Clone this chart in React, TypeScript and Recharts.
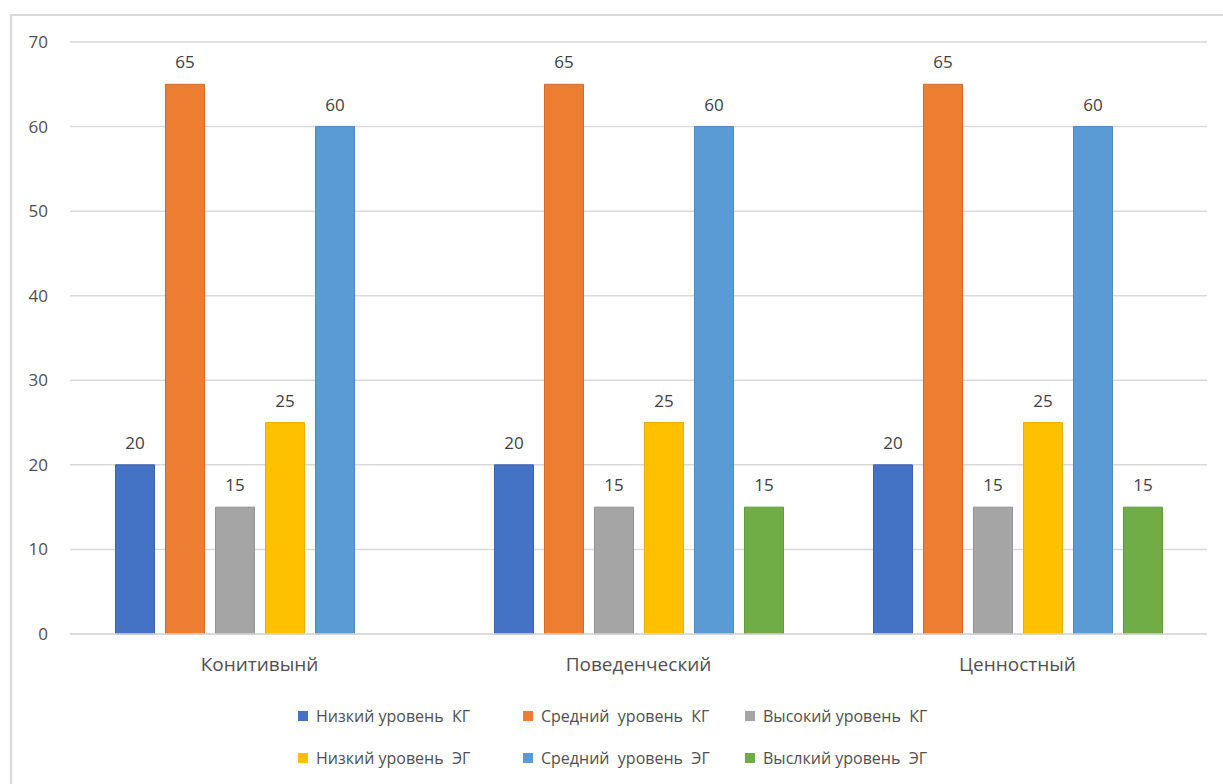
import { BarChart, Bar, XAxis, YAxis, CartesianGrid, Legend, LabelList } from 'recharts'

const categories = ['Конитивынй', 'Поведенческий', 'Ценностный']
const lowKG = [20, 20, 20]
const midKG = [65, 65, 65]
const highKG = [15, 15, 15]
const lowEG = [25, 25, 25]
const midEG = [60, 60, 60]
const highEG = [null, 15, 15]
const yTicks = [0, 10, 20, 30, 40, 50, 60, 70]

const series = [
  { key: 'lowKG', name: 'Низкий уровень  КГ', fill: '#4472C4', stroke: '#3A62AB' },
  { key: 'midKG', name: 'Средний  уровень  КГ', fill: '#ED7D31', stroke: '#D06A26' },
  { key: 'highKG', name: 'Высокий уровень  КГ', fill: '#A5A5A5', stroke: '#939393' },
  { key: 'lowEG', name: 'Низкий уровень  ЭГ', fill: '#FFC000', stroke: '#E8AE00' },
  { key: 'midEG', name: 'Средний  уровень  ЭГ', fill: '#5B9BD5', stroke: '#4D89C0' },
  { key: 'highEG', name: 'Выслкий уровень  ЭГ', fill: '#70AD47', stroke: '#5F9A3A' }
]

const data = categories.map((name, i) => ({
  name,
  lowKG: lowKG[i],
  midKG: midKG[i],
  highKG: highKG[i],
  lowEG: lowEG[i],
  midEG: midEG[i],
  highEG: highEG[i]
}))

const font = '"Open Sans", sans-serif'
const textColor = '#505050'

const renderLegend = () => (
  <div
    style={{
      height: 100,
      paddingTop: 11,
      boxSizing: 'border-box',
      display: 'grid',
      gridTemplateColumns: '225px 222px 220px',
      gridAutoRows: '42px',
      marginLeft: 298,
      fontFamily: font,
      fontSize: 16,
      color: textColor
    }}
  >
    {series.map((s) => (
      <div key={s.key} style={{ display: 'flex', alignItems: 'center', whiteSpace: 'pre' }}>
        <span style={{ width: 10, height: 10, background: s.fill, marginRight: 8, display: 'inline-block' }} />
        {s.name}
      </div>
    ))}
  </div>
)

export default function App() {
  return (
    <div style={{ position: 'absolute', left: 0, top: 0, width: 1223, height: 784, overflow: 'hidden', background: '#fff' }}>
      <div
        style={{
          position: 'absolute',
          left: 10,
          top: 14,
          width: 1230,
          height: 790,
          border: '2px solid #d9d9d9',
          boxSizing: 'border-box'
        }}
      />
      <BarChart
        width={1223}
        height={784}
        data={data}
        margin={{ top: 42, right: 16, bottom: 0, left: 10 }}
        barCategoryGap='12%'
        barGap={11}
      >
        <CartesianGrid vertical={false} stroke='#d9d9d9' strokeWidth={1.5} />
        <XAxis
          dataKey='name'
          height={50}
          tickLine={false}
          axisLine={{ stroke: '#d9d9d9', strokeWidth: 1.5 }}
          tickMargin={18}
          tick={{ fill: textColor, fontSize: 19, fontFamily: font }}
        />
        <YAxis
          width={60}
          domain={[0, 70]}
          ticks={yTicks}
          interval={0}
          tickLine={false}
          axisLine={false}
          tickMargin={16}
          tick={{ fill: textColor, fontSize: 17, fontFamily: font }}
        />
        <Legend
          verticalAlign='bottom'
          content={renderLegend}
          wrapperStyle={{ left: 0, width: 1223, bottom: 0 }}
        />
        {series.map((s) => (
          <Bar
            key={s.key}
            dataKey={s.key}
            name={s.name}
            fill={s.fill}
            stroke={s.stroke}
            strokeWidth={1}
            isAnimationActive={false}
          >
            <LabelList
              dataKey={s.key}
              position='top'
              offset={16}
              fill='#404040'
              fontSize={17}
              fontFamily={font}
              formatter={(v: any) => (v == null ? '' : v)}
            />
          </Bar>
        ))}
      </BarChart>
    </div>
  )
}
